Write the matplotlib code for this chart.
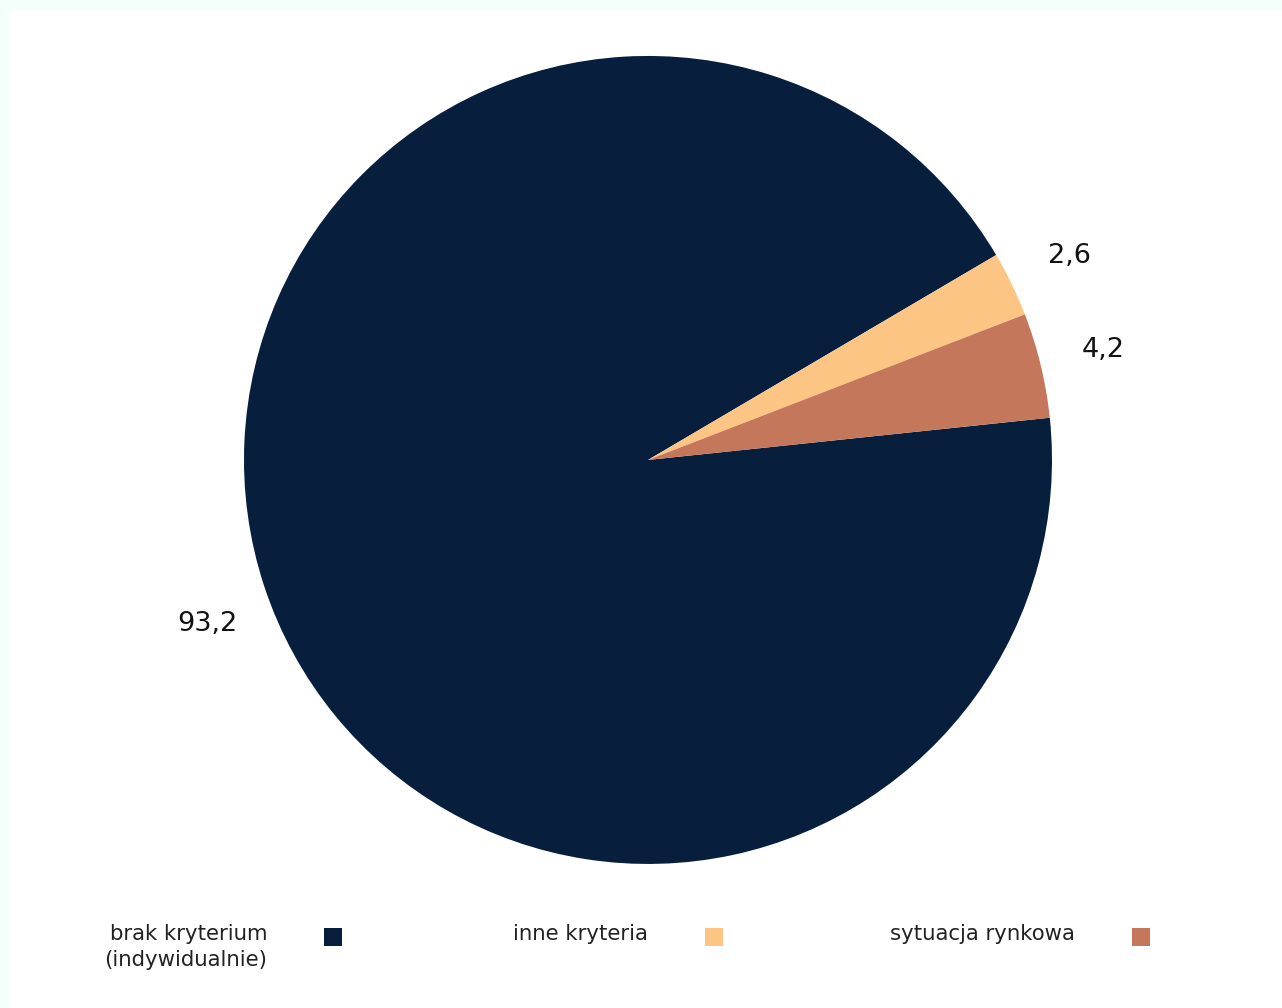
import numpy as np
import matplotlib.pyplot as plt
from matplotlib.patches import Rectangle

categories = ['brak kryterium\n(indywidualnie)', 'inne kryteria', 'sytuacja rynkowa']
values = [93.2, 2.6, 4.2]
colors = ['#071f3d', '#fdc584', '#c4775b']

plt.rcParams['font.family'] = ['DejaVu Sans']

fig = plt.figure(figsize=(12.82, 10.08), dpi=100)
fig.patch.set_facecolor('#f2fffa')
# white panel leaving a thin mint strip at top and left
fig.add_artist(Rectangle((9 / 1282, 0), 1, 1 - 10 / 1008, transform=fig.transFigure,
                         facecolor='white', edgecolor='none', zorder=0))

ax = fig.add_axes([0.1903, 0.1429, 0.6303, 0.8016])
wedges, texts, autotexts = ax.pie(
    values, colors=colors, startangle=6, counterclock=False,
    autopct=lambda p: f'{p:.1f}'.replace('.', ','), pctdistance=1.16,
    textprops={'fontsize': 19.5, 'color': '#111111'},
    wedgeprops={'linewidth': 0})

# nudge the big slice's label a little further round the circle
w = wedges[0]
ang = np.deg2rad((w.theta1 + w.theta2) / 2 + 2.2)
autotexts[0].set_position((1.165 * np.cos(ang), 1.165 * np.sin(ang)))

ax.set_xlim(-1, 1)
ax.set_ylim(-1, 1)
ax.set_aspect('equal')
ax.axis('off')

# legend: label text to the left of each colour square
text_right = [267, 648, 1075]
for lab, col, xr in zip(categories, colors, text_right):
    fig.text(xr / 1282, 1 - 924 / 1008, lab, ha='right', va='top', multialignment='right',
             fontsize=15.3, color='#222222', linespacing=1.4)
    fig.add_artist(Rectangle(((xr + 57) / 1282, 1 - 946 / 1008), 18 / 1282, 18 / 1008,
                             transform=fig.transFigure, facecolor=col, edgecolor='none'))

fig.savefig('out.png', dpi=100, facecolor=fig.get_facecolor())
